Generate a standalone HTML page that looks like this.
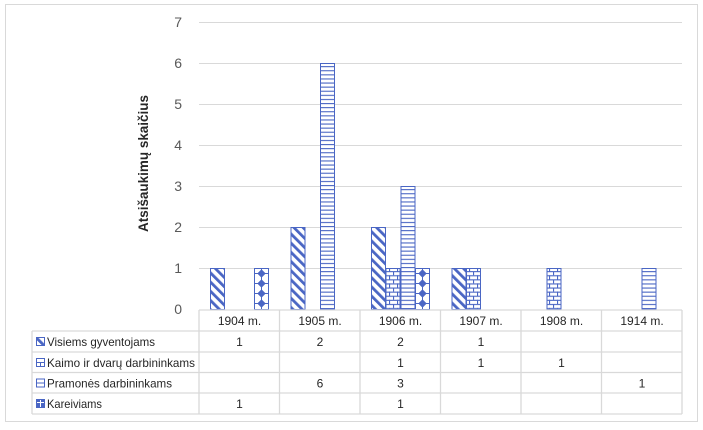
<!DOCTYPE html>
<html><head><meta charset="utf-8"><style>
html,body{margin:0;padding:0;background:#fff;}
svg{display:block;}
text{font-family:"Liberation Sans",Arial,sans-serif;}
</style></head><body>
<svg width="703" height="430" viewBox="0 0 703 430" xmlns="http://www.w3.org/2000/svg">
<defs>
<pattern id="diag" width="6.5" height="6.5" patternUnits="userSpaceOnUse" patternTransform="rotate(-45)">
<rect x="0" y="0" width="6.5" height="6.5" fill="#fff"/>
<rect x="0" y="0" width="2.8" height="6.5" fill="#4a66c4"/>
</pattern>
<pattern id="hl" width="4" height="4.1" patternUnits="userSpaceOnUse" y="0.5">
<rect x="0" y="0" width="4" height="4.1" fill="#fff"/>
<rect x="0" y="0" width="4" height="1.1" fill="#4a66c4"/>
</pattern>
<pattern id="brick" width="8" height="8.2" patternUnits="userSpaceOnUse" x="1" y="0.5">
<rect x="0" y="0" width="8" height="8.2" fill="#fff"/>
<rect x="0" y="0" width="8" height="1.1" fill="#4a66c4"/>
<rect x="0" y="4.1" width="8" height="1.1" fill="#4a66c4"/>
<rect x="0" y="0" width="1.1" height="4.1" fill="#4a66c4"/>
<rect x="4" y="4.1" width="1.1" height="4.1" fill="#4a66c4"/>
</pattern>
</defs>
<rect width="703" height="430" fill="#fff"/>
<rect x="5.5" y="4.5" width="692" height="417" fill="none" stroke="#d9d9d9" stroke-width="1"/>

<!-- gridlines -->
<g stroke="#d9d9d9" stroke-width="1">
<line x1="199" y1="22.5" x2="682" y2="22.5"/>
<line x1="199" y1="63.5" x2="682" y2="63.5"/>
<line x1="199" y1="104.5" x2="682" y2="104.5"/>
<line x1="199" y1="145.5" x2="682" y2="145.5"/>
<line x1="199" y1="186.5" x2="682" y2="186.5"/>
<line x1="199" y1="227.5" x2="682" y2="227.5"/>
<line x1="199" y1="268.5" x2="682" y2="268.5"/>
</g>

<!-- y labels -->
<g font-size="14" fill="#595959" text-anchor="end">
<text x="182" y="27">7</text>
<text x="182" y="68">6</text>
<text x="182" y="109">5</text>
<text x="182" y="150">4</text>
<text x="182" y="191">3</text>
<text x="182" y="232">2</text>
<text x="182" y="273">1</text>
<text x="182" y="314">0</text>
</g>
<text transform="translate(148,163.5) rotate(-90)" text-anchor="middle" font-size="14" font-weight="bold" fill="#262626" textLength="137" lengthAdjust="spacingAndGlyphs">Atsišaukimų skaičius</text>

<!-- bars -->
<g stroke="#4a66c4" stroke-width="1">
<rect x="210.5" y="268.5" width="14" height="41" fill="url(#diag)"/>
<rect x="291" y="227.5" width="14" height="82" fill="url(#diag)"/>
<rect x="371.5" y="227.5" width="14" height="82" fill="url(#diag)"/>
<rect x="452" y="268.5" width="14" height="41" fill="url(#diag)"/>
<rect x="386" y="268.5" width="14" height="41" fill="url(#brick)"/>
<rect x="466.5" y="268.5" width="14" height="41" fill="url(#brick)"/>
<rect x="547" y="268.5" width="14" height="41" fill="url(#brick)"/>
<rect x="320.5" y="63.5" width="14" height="246" fill="url(#hl)"/>
<rect x="401" y="186.5" width="14" height="123" fill="url(#hl)"/>
<rect x="642" y="268.5" width="14" height="41" fill="url(#hl)"/>
<rect x="254.5" y="268.5" width="14" height="41" fill="#fff"/>
<rect x="415.5" y="268.5" width="14" height="41" fill="#fff"/>
</g>
<g stroke="#4a66c4" stroke-width="1" fill="#4a66c4">
<line x1="261.5" y1="269" x2="261.5" y2="309"/>
<line x1="255" y1="273.5" x2="268" y2="273.5"/><line x1="255" y1="283.5" x2="268" y2="283.5"/><line x1="255" y1="293.5" x2="268" y2="293.5"/><line x1="255" y1="303.5" x2="268" y2="303.5"/>
<polygon points="261.5,270 265,273.5 261.5,277 258,273.5"/><polygon points="261.5,280 265,283.5 261.5,287 258,283.5"/><polygon points="261.5,290 265,293.5 261.5,297 258,293.5"/><polygon points="261.5,300 265,303.5 261.5,307 258,303.5"/>
<line x1="422.5" y1="269" x2="422.5" y2="309"/>
<line x1="416" y1="273.5" x2="429" y2="273.5"/><line x1="416" y1="283.5" x2="429" y2="283.5"/><line x1="416" y1="293.5" x2="429" y2="293.5"/><line x1="416" y1="303.5" x2="429" y2="303.5"/>
<polygon points="422.5,270 426,273.5 422.5,277 419,273.5"/><polygon points="422.5,280 426,283.5 422.5,287 419,283.5"/><polygon points="422.5,290 426,293.5 422.5,297 419,293.5"/><polygon points="422.5,300 426,303.5 422.5,307 419,303.5"/>
</g>

<!-- table -->
<g stroke="#d9d9d9" stroke-width="1.3">
<line x1="199" y1="310" x2="682" y2="310"/>
<line x1="32" y1="331" x2="682" y2="331"/>
<line x1="32" y1="352" x2="682" y2="352"/>
<line x1="32" y1="372.5" x2="682" y2="372.5"/>
<line x1="32" y1="393" x2="682" y2="393"/>
<line x1="32" y1="414" x2="682" y2="414"/>
<line x1="32" y1="331" x2="32" y2="414"/>
<line x1="199" y1="310" x2="199" y2="414"/>
<line x1="279.5" y1="310" x2="279.5" y2="414"/>
<line x1="360" y1="310" x2="360" y2="414"/>
<line x1="440.5" y1="310" x2="440.5" y2="414"/>
<line x1="521" y1="310" x2="521" y2="414"/>
<line x1="601.5" y1="310" x2="601.5" y2="414"/>
<line x1="682" y1="310" x2="682" y2="414"/>
</g>
<g font-size="12" fill="#262626" text-anchor="middle">
<text x="239.5" y="325">1904 m.</text>
<text x="320" y="325">1905 m.</text>
<text x="400.5" y="325">1906 m.</text>
<text x="481" y="325">1907 m.</text>
<text x="561.5" y="325">1908 m.</text>
<text x="642" y="325">1914 m.</text>
<text x="239.5" y="346">1</text>
<text x="320" y="346">2</text>
<text x="400.5" y="346">2</text>
<text x="481" y="346">1</text>
<text x="400.5" y="367">1</text>
<text x="481" y="367">1</text>
<text x="561.5" y="367">1</text>
<text x="320" y="387.5">6</text>
<text x="400.5" y="387.5">3</text>
<text x="642" y="387.5">1</text>
<text x="239.5" y="408">1</text>
<text x="400.5" y="408">1</text>
</g>
<g font-size="12" fill="#262626">
<text x="47" y="346" textLength="108" lengthAdjust="spacingAndGlyphs">Visiems gyventojams</text>
<text x="47" y="367" textLength="148" lengthAdjust="spacingAndGlyphs">Kaimo ir dvarų darbininkams</text>
<text x="47" y="387.5" textLength="125" lengthAdjust="spacingAndGlyphs">Pramonės darbininkams</text>
<text x="47" y="408" textLength="55" lengthAdjust="spacingAndGlyphs">Kareiviams</text>
</g>
<g stroke="#4a66c4" stroke-width="1">
<rect x="36.5" y="337.5" width="8" height="8" fill="url(#diag)"/>
<rect x="36.5" y="358.5" width="8" height="8" fill="#fff"/>
<line x1="37" y1="362.5" x2="44" y2="362.5"/>
<line x1="40.5" y1="362.5" x2="40.5" y2="366"/>
<rect x="36.5" y="379" width="8" height="8" fill="#fff"/>
<line x1="37" y1="383" x2="44" y2="383"/>
<rect x="36.5" y="399.5" width="8" height="8" fill="#4a66c4"/>
<line x1="40.5" y1="400" x2="40.5" y2="407" stroke="#fff"/>
<line x1="37" y1="402.5" x2="44" y2="402.5" stroke="#fff"/>
</g>
</svg>
</body></html>
